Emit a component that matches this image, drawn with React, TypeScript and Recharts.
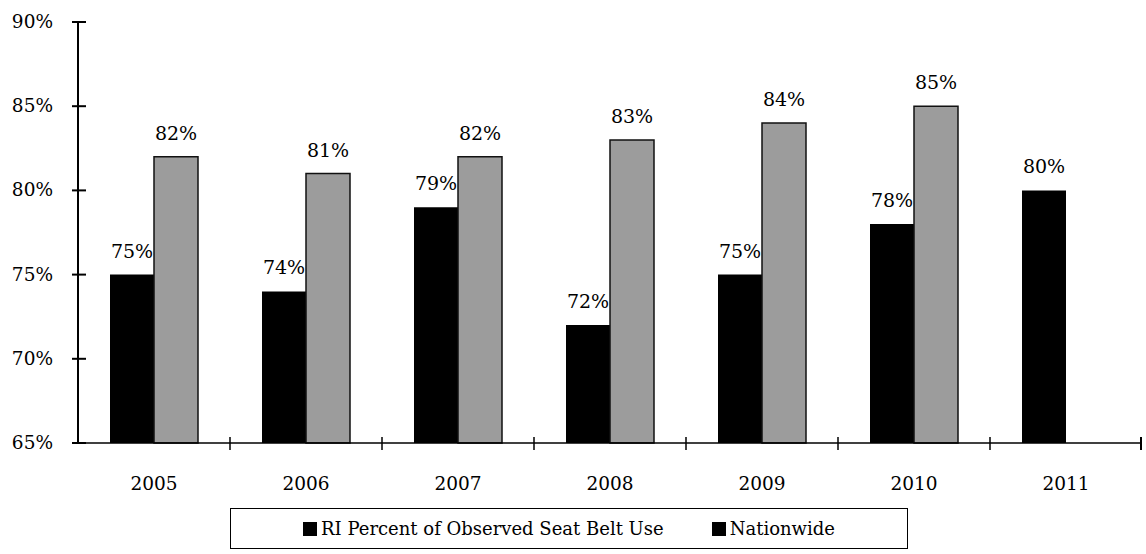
import { BarChart, Bar, XAxis, YAxis, Legend, LabelList } from "recharts"

const years = ["2005", "2006", "2007", "2008", "2009", "2010", "2011"]
const riUse = [75, 74, 79, 72, 75, 78, 80]
const nationwide = [82, 81, 82, 83, 84, 85, null]
const yTicks = [65, 70, 75, 80, 85, 90]

const data = years.map((year, i) => ({ year, ri: riUse[i], nation: nationwide[i] }))

const FONT = "'DejaVu Serif', serif"
const W = 1146
const H = 554
const PLOT_LEFT = 78
const PLOT_RIGHT = 1142
const BAND = (PLOT_RIGHT - PLOT_LEFT) / years.length

const pct = (v: any) => (v == null ? "" : `${v}%`)

function YTick({ x, y, payload }: any) {
  return (
    <g>
      <line x1={x - 6} x2={x + 8} y1={y} y2={y} stroke="#000" strokeWidth={2} />
      <text x={x - 25} y={y} dy={6} textAnchor="end" fontFamily={FONT} fontSize={18.5} fill="#000">
        {payload.value}%
      </text>
    </g>
  )
}

function XTick({ x, y, payload, index }: any) {
  const left = x - BAND / 2
  return (
    <g>
      {index > 0 && <line x1={left} x2={left} y1={y - 6} y2={y + 7} stroke="#000" strokeWidth={1.5} />}
      {index === years.length - 1 && (
        <line x1={x + BAND / 2 - 1} x2={x + BAND / 2 - 1} y1={y - 6} y2={y + 7} stroke="#000" strokeWidth={2} />
      )}
      <text x={x} y={y} dy={47} textAnchor="middle" fontFamily={FONT} fontSize={18.5} fill="#000">
        {payload.value}
      </text>
    </g>
  )
}

function LegendBox() {
  const item = (label: string) => (
    <span style={{ display: "inline-flex", alignItems: "center" }}>
      <span style={{ width: 14, height: 14, background: "#000", display: "inline-block", marginRight: 4 }} />
      {label}
    </span>
  )
  return (
    <div
      style={{
        position: "absolute",
        left: 230,
        top: 0,
        width: 678,
        height: 41,
        boxSizing: "border-box",
        border: "1.5px solid #000",
        display: "flex",
        alignItems: "center",
        justifyContent: "center",
        gap: 48,
        fontFamily: FONT,
        fontSize: 18,
        lineHeight: "20px",
        color: "#000",
        background: "#fff",
      }}
    >
      {item("RI Percent of Observed Seat Belt Use")}
      {item("Nationwide")}
    </div>
  )
}

export default function App() {
  return (
    <div style={{ width: W, height: H, background: "#fff", position: "relative", overflow: "hidden" }}>
      <style>{"html,body{margin:0;padding:0;overflow:hidden;}"}</style>
      <BarChart
        width={W}
        height={H}
        data={data}
        margin={{ top: 22, right: W - PLOT_RIGHT, left: 0, bottom: 5 }}
        barGap={0}
        barSize={44}
      >
        <XAxis
          dataKey="year"
          tickLine={false}
          tickSize={0}
          tickMargin={0}
          height={65}
          axisLine={{ stroke: "#000", strokeWidth: 1.5 }}
          tick={<XTick />}
          interval={0}
        />
        <YAxis
          domain={[65, 90]}
          ticks={yTicks}
          width={PLOT_LEFT}
          tickLine={false}
          tickSize={0}
          tickMargin={0}
          axisLine={{ stroke: "#000", strokeWidth: 2 }}
          tick={<YTick />}
        />
        <Legend
          verticalAlign="bottom"
          content={<LegendBox />}
          wrapperStyle={{ position: "absolute", top: 508, left: 0, width: W, height: 41, bottom: "auto", margin: 0 }}
        />
        <Bar dataKey="ri" name="RI Percent of Observed Seat Belt Use" fill="#000" isAnimationActive={false}>
          <LabelList dataKey="ri" position="top" offset={17} formatter={pct} fontFamily={FONT} fontSize={19} fill="#000" />
        </Bar>
        <Bar dataKey="nation" name="Nationwide" fill="#9c9c9c" stroke="#111" strokeWidth={1.5} isAnimationActive={false}>
          <LabelList dataKey="nation" position="top" offset={17} formatter={pct} fontFamily={FONT} fontSize={19} fill="#000" />
        </Bar>
      </BarChart>
    </div>
  )
}
